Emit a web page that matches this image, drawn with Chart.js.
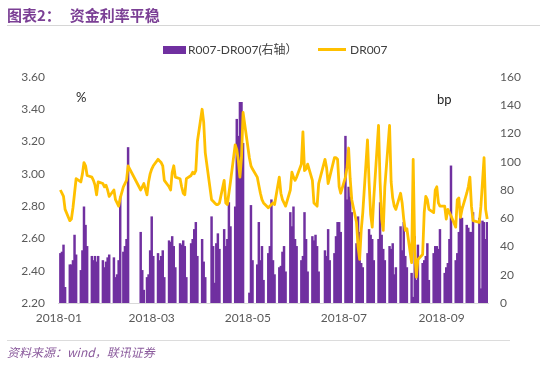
<!DOCTYPE html>
<html>
<head>
<meta charset="utf-8">
<script src="https://cdn.jsdelivr.net/npm/chart.js@4.4.1/dist/chart.umd.min.js"></script>
<style>
  html, body { margin: 0; padding: 0; background: #ffffff; }
  #wrap { position: relative; width: 550px; height: 366px; overflow: hidden; background: #fff; }
  #c { position: absolute; left: 0; top: 0; }
  .txt { position: absolute; white-space: nowrap; }
  #title { left: 7px; top: 5px; font: bold 15px "Noto Sans CJK SC", sans-serif; color: #7b3f95; line-height: 20px; }
  #title span { margin-left: 9px; }
  #hr1 { position: absolute; left: 7px; top: 25px; width: 533px; height: 1px; background: #d6d6d6; }
  #hr2 { position: absolute; left: 7px; top: 340px; width: 503px; height: 1px; background: #dcdcdc; }
  #source { left: 7px; top: 344px; font: italic 12px "Noto Sans CJK SC", sans-serif; color: #8a5a9c; line-height: 16px; }
  .leg { top: 42px; font: 12px "Lato", "Noto Sans CJK SC", sans-serif; color: #404040; line-height: 16px; }
  .unit { font: 13px "Lato", "Noto Sans", sans-serif; color: #262626; }
</style>
</head>
<body>
<div id="wrap">
  <canvas id="c" width="550" height="366"></canvas>
  <div id="title" class="txt">图表2：<span>资金利率平稳</span></div>
  <div id="hr1"></div>
  <div class="txt leg" style="left:163px;"><span style="display:inline-block;width:23px;height:8px;background:#7030A0;vertical-align:middle;margin-right:2px;margin-top:-2px;"></span>R007-DR007(右轴）</div>
  <div class="txt leg" style="left:318px;"><span style="display:inline-block;width:28px;height:3px;background:#FFC000;vertical-align:middle;margin-right:4px;margin-top:-2px;"></span>DR007</div>
  <div class="txt unit" style="left:76px;top:89px;">%</div>
  <div class="txt unit" style="left:437px;top:91px;">bp</div>
  <div id="hr2"></div>
  <div id="source" class="txt">资料来源：wind，联讯证券</div>
</div>
<script>
// Trading days of 2018 (MM-DD)
const tradingDays = [
  '01-02','01-03','01-04','01-05','01-08','01-09','01-10','01-11','01-12','01-15','01-16','01-17','01-18','01-19','01-22','01-23','01-24','01-25','01-26','01-29','01-30','01-31',
  '02-01','02-02','02-05','02-06','02-07','02-08','02-09','02-11','02-12','02-13','02-14','02-22','02-23','02-24','02-26','02-27','02-28',
  '03-01','03-02','03-05','03-06','03-07','03-08','03-09','03-12','03-13','03-14','03-15','03-16','03-19','03-20','03-21','03-22','03-23','03-26','03-27','03-28','03-29','03-30',
  '04-02','04-03','04-04','04-08','04-09','04-10','04-11','04-12','04-13','04-16','04-17','04-18','04-19','04-20','04-23','04-24','04-25','04-26','04-27','04-28',
  '05-02','05-03','05-04','05-07','05-08','05-09','05-10','05-11','05-14','05-15','05-16','05-17','05-18','05-21','05-22','05-23','05-24','05-25','05-28','05-29','05-30','05-31',
  '06-01','06-04','06-05','06-06','06-07','06-08','06-11','06-12','06-13','06-14','06-15','06-19','06-20','06-21','06-22','06-25','06-26','06-27','06-28','06-29',
  '07-02','07-03','07-04','07-05','07-06','07-09','07-10','07-11','07-12','07-13','07-16','07-17','07-18','07-19','07-20','07-23','07-24','07-25','07-26','07-27','07-30','07-31',
  '08-01','08-02','08-03','08-06','08-07','08-08','08-09','08-10','08-13','08-14','08-15','08-16','08-17','08-20','08-21','08-22','08-23','08-24','08-27','08-28','08-29','08-30','08-31',
  '09-03','09-04','09-05','09-06','09-07','09-10','09-11','09-12','09-13','09-14','09-17','09-18','09-19','09-20','09-21','09-25','09-26','09-27','09-28','09-29','09-30'
];

// R007-DR007 spread (bp, right axis)
const spreadBp = [
  35,36,41,11, 27,27,30,48,34, 23,37,68,55,40, 33,30,33,29,33, 30,25,29,
  32,34, 32,18,20,30,75, 36,40,45,110, 50,23,9, 18,20,37,
  61,33, 35,30,33,37,18, 44,43,47,40,25, 42,41,44,40,18, 42,45,52,57,33,
  45,29,18, 61,40,14,42,49,38, 52,40,45,71,54, 68,130,118,142,142,113,
  7,69,30, 27,57,30,40,16, 35,40,73,30,20, 25,26,36,40,22, 64,54,68,45,
  40, 30,33,64,45,22, 47,44,48,40,22, 37,33,52,30, 35,47,57,57,50,
  118,73,82,75,64, 42,61,50,28,25, 35,52,48,45,30, 45,71,48,38,30, 40,38,
  42,20,25, 54,37,57,33,25, 21,4,47,16,41, 28,30,33,42,16, 35,40,40,38,52,
  21,25,28,45,97, 30,35,50,68,60, 55,53,50,50,64, 60,10,58,57,45,57
];

// DR007 (%, left axis)
const dr007 = [
  2.90,2.88,2.86,2.78, 2.71,2.72,2.79,2.88,2.97, 2.95,3.00,3.07,3.05,2.99, 2.98,2.96,2.93,2.87,2.95, 2.94,2.92,2.93,
  2.90,2.86, 2.90,2.84,2.82,2.80,2.85, 2.92,2.94,2.96,3.05, 2.90,2.92,2.94, 2.87,2.95,3.00,
  3.03,3.05, 3.09,3.08,3.07,3.05,2.96, 2.92,2.90,3.01,3.05,2.98, 2.97,2.92,2.88,2.87,2.97, 2.99,3.01,3.00,3.02,3.20,
  3.40,3.32,3.13, 2.84,2.83,2.82,2.81,2.81,2.82, 2.96,2.82,2.81,2.88,2.95, 3.18,3.15,3.08,2.98,3.10,3.38,
  3.10,3.05,3.03, 2.98,2.93,2.88,2.84,2.82, 2.79,2.80,2.81,2.82,2.81, 2.98,2.88,2.84,2.82,2.80, 2.90,3.01,2.98,2.96,
  2.98, 3.06,3.26,3.02,3.03,3.06, 2.96,2.82,2.81,2.80,2.94, 3.09,3.04,2.94,2.98, 3.10,3.10,3.09,2.92,2.88,
  2.98,3.04,3.16,2.97,2.84, 2.70,2.55,2.47,2.65,2.76, 3.21,2.95,2.75,2.67,2.85, 3.30,2.95,2.72,2.65,2.92, 3.30,2.95,
  2.85,2.80,2.78, 2.88,2.82,2.72,2.65,2.66, 2.45,3.09,2.52,2.36,2.47, 2.50,2.76,2.86,2.84,2.78, 2.76,2.90,2.92,2.82,2.80,
  2.80,2.72,2.78,2.76,2.74, 2.67,2.84,2.85,2.73,2.78, 2.88,2.92,2.98,2.80,2.71, 2.70,2.80,2.95,3.10,2.78,2.72
];

// x-axis tick labels
const tickLabels = ['2018-01','2018-03','2018-05','2018-07','2018-09'];
// axis tick values
const leftTicks = [2.20,2.40,2.60,2.80,3.00,3.20,3.40,3.60];
const rightTicks = [0,20,40,60,80,100,120,140,160];

// calendar days Jan 1 .. Sep 30 as categories (non-trading days stay empty)
const monthLengths = [31,28,31,30,31,30,31,31,30];
const calendar = [];
monthLengths.forEach((n, m) => {
  for (let d = 1; d <= n; d++) {
    calendar.push(String(m + 1).padStart(2, '0') + '-' + String(d).padStart(2, '0'));
  }
});
const idx = {};
tradingDays.forEach((d, i) => { idx[d] = i; });
const barData = calendar.map(d => (d in idx ? spreadBp[idx[d]] : null));
const lineData = calendar.map(d => (d in idx ? dr007[idx[d]] : null));

const tickFont = { family: 'Lato, "Noto Sans", sans-serif', size: 12 };
const tickColor = '#595959';

new Chart(document.getElementById('c'), {
  type: 'bar',
  data: {
    labels: calendar,
    datasets: [
      {
        type: 'line',
        label: 'DR007',
        data: lineData,
        yAxisID: 'y',
        borderColor: '#FFC000',
        backgroundColor: '#FFC000',
        borderWidth: 2.8,
        pointRadius: 0,
        tension: 0,
        spanGaps: true,
        borderJoinStyle: 'round',
        order: 0
      },
      {
        type: 'bar',
        label: 'R007-DR007(右轴）',
        data: barData,
        yAxisID: 'y1',
        backgroundColor: '#7030A0',
        borderWidth: 0,
        barPercentage: 1,
        categoryPercentage: 1,
        inflateAmount: 0.45,
        order: 1
      }
    ]
  },
  options: {
    responsive: false,
    animation: false,
    devicePixelRatio: 1,
    layout: { padding: { top: 77, bottom: 33, left: 0, right: 0 } },
    plugins: { legend: { display: false }, tooltip: { enabled: false }, title: { display: false } },
    scales: {
      x: {
        type: 'category',
        offset: true,
        grid: { display: false, drawTicks: false },
        border: { display: true, color: '#d9d9d9' },
        ticks: {
          autoSkip: false, maxRotation: 0, minRotation: 0, padding: 8,
          color: tickColor, font: tickFont,
          callback: function (value) {
            const cat = calendar[value];
            const lab = '2018-' + cat.slice(0, 2);
            return (cat.endsWith('-01') && tickLabels.includes(lab)) ? lab : '';
          }
        },
        afterFit: function (s) { s.height = 30; }
      },
      y: {
        position: 'left',
        min: leftTicks[0], max: leftTicks[leftTicks.length - 1],
        grid: { display: false, drawTicks: false },
        border: { display: false },
        afterBuildTicks: function (s) { s.ticks = leftTicks.map(v => ({ value: v })); },
        ticks: { padding: 13, color: tickColor, font: tickFont, callback: v => Number(v).toFixed(2) },
        afterFit: function (s) { s.width = 58; }
      },
      y1: {
        position: 'right',
        min: rightTicks[0], max: rightTicks[rightTicks.length - 1],
        grid: { display: false, drawTicks: false },
        border: { display: false },
        afterBuildTicks: function (s) { s.ticks = rightTicks.map(v => ({ value: v })); },
        ticks: { padding: 12, color: tickColor, font: tickFont },
        afterFit: function (s) { s.width = 62; }
      }
    }
  }
});
</script>
</body>
</html>
